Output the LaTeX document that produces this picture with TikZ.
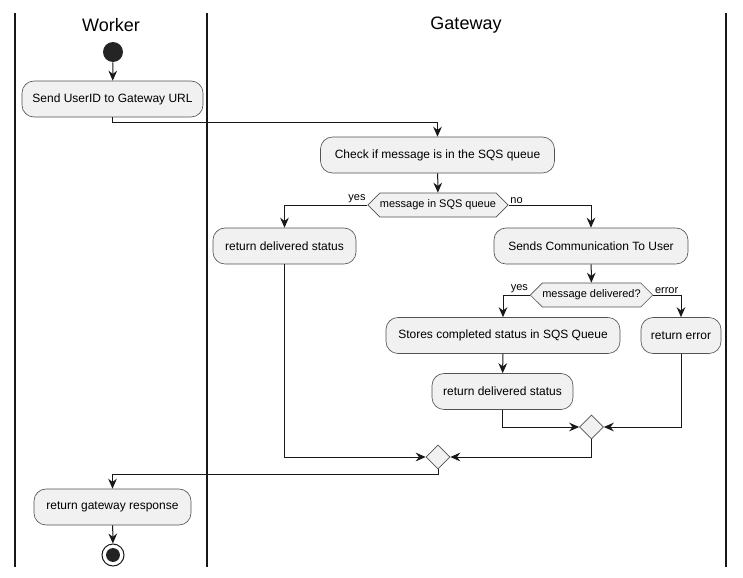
\documentclass[tikz,border=0pt]{standalone}
\usepackage{fontspec}
\setmainfont{Liberation Sans}
\usetikzlibrary{shapes.geometric,shapes.symbols,arrows.meta}
\definecolor{umlfill}{HTML}{F1F1F1}
\definecolor{umlline}{HTML}{181818}
\tikzset{
  act/.style={draw=umlline!75, line width=0.5pt, fill=umlfill, rounded corners=9pt,
    minimum height=27pt, inner sep=0pt, font=\fontsize{9}{11}\selectfont},
  hexa/.style={draw=umlline!75, line width=0.5pt, fill=umlfill, shape=signal,
    signal to=east and west, signal pointer angle=90, minimum height=18pt,
    inner sep=0pt, font=\fontsize{8.25}{10}\selectfont},
  merge/.style={draw=umlline!75, line width=0.5pt, fill=umlfill, diamond,
    minimum width=18pt, minimum height=18pt, inner sep=0pt},
  flow/.style={draw=umlline, line width=0.75pt, -{Stealth[length=7.5pt, width=6.5pt, inset=2.5pt]}},
  guard/.style={font=\fontsize{8.25}{10}\selectfont, inner sep=1pt},
  lane/.style={line width=1.1pt, umlline}
}
\begin{document}
\begin{tikzpicture}[x=0.75pt, y=-0.75pt]
    \useasboundingbox (0,0) rectangle (743,578);
    \draw[lane] (15,13) -- (15,567);
    \draw[lane] (207,13) -- (207,567);
    \draw[lane] (726,13) -- (726,567);
    \node[font=\fontsize{13.5}{16}\selectfont] (worker) at (111,25) {Worker};
    \node[font=\fontsize{13.5}{16}\selectfont] (gateway) at (466,25) {Gateway};

    \node[circle, fill=umlline!95, minimum size=15pt, inner sep=0pt] (start) at (113,52) {};
    \node[act, minimum width=135.75pt] (send) at (112.5,99) {Send UserID to Gateway URL};
    \node[act, minimum width=175.5pt] (check) at (437.5,155) {Check if message is in the SQS queue};
    \node[hexa, minimum width=103.5pt] (insqs) at (438,205) {message in SQS queue};
    \node[act, minimum width=107.25pt] (retA) at (284.5,246) {return delivered status};
    \node[act, minimum width=145.5pt] (comm) at (591,246) {Sends Communication To User};
    \node[hexa, minimum width=89.25pt] (deliv) at (591.5,295) {message delivered?};
    \node[act, minimum width=175.5pt] (store) at (503,335.5) {Stores completed status in SQS Queue};
    \node[act, minimum width=60pt] (err) at (681,335.5) {return error};
    \node[act, minimum width=105.75pt] (retB) at (502.5,391.5) {return delivered status};
    \node[merge] (mergeB) at (591.5,427) {};
    \node[merge] (mergeA) at (438,457) {};
    \node[act, minimum width=117.75pt] (resp) at (112.5,507) {return gateway response};
    \node[circle, draw=umlline, line width=0.75pt, fill=white, minimum size=16.5pt, inner sep=0pt] (stop) at (113,555) {};
    \fill[umlline!95] (stop.center) circle (5.2pt);

    \draw[flow] (start) -- (send);
    \draw[flow] (send.south) -- ++(0,5) -| (check.north);
    \draw[flow] (check) -- (insqs);
    \draw[flow] (insqs.west) node[guard, above left] {yes} -| (retA.north);
    \draw[flow] (insqs.east) node[guard, above right] {no} -| (comm.north);
    \draw[flow] (comm) -- (deliv);
    \draw[flow] (deliv.west) node[guard, above left] {yes} -| (store.north);
    \draw[flow] (deliv.east) node[guard, above right] {error} -| (err.north);
    \draw[flow] (store) -- (retB);
    \draw[flow] (retB.south) |- (mergeB.west);
    \draw[flow] (err.south) |- (mergeB.east);
    \draw[flow] (retA.south) |- (mergeA.west);
    \draw[flow] (mergeB.south) |- (mergeA.east);
    \draw[flow] (mergeA.south) -- ++(0,5) -| (resp.north);
    \draw[flow] (resp) -- (stop);
\end{tikzpicture}
\end{document}
